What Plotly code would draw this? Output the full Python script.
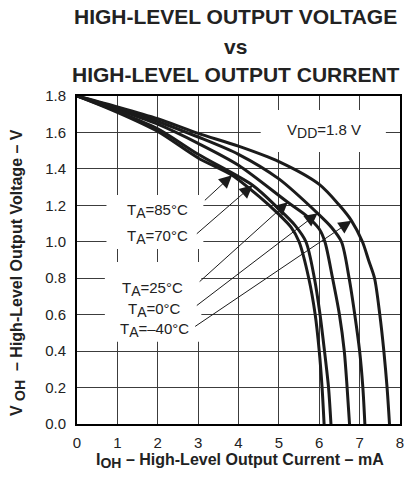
import plotly.graph_objects as go

# High-level output voltage vs output current, one curve per ambient temperature
current_85 = [0, 1, 2, 3, 3.84, 4.5, 5.0, 5.3, 5.5, 5.74, 5.90, 6.0, 6.07, 6.12]
voltage_85 = [1.8, 1.71, 1.605, 1.46, 1.365, 1.25, 1.15, 1.08, 1.0, 0.8, 0.6, 0.4, 0.2, 0.0]

current_70 = [0, 1, 2, 3, 4.35, 5.0, 5.4, 5.67, 5.88, 6.02, 6.13, 6.23, 6.29]
voltage_70 = [1.8, 1.715, 1.62, 1.48, 1.31, 1.18, 1.09, 1.0, 0.8, 0.6, 0.4, 0.2, 0.0]

current_25 = [0, 1, 2, 3, 4, 5.22, 5.7, 6.0, 6.14, 6.33, 6.5, 6.62, 6.69, 6.75]
voltage_25 = [1.8, 1.725, 1.645, 1.54, 1.42, 1.217, 1.14, 1.07, 1.0, 0.8, 0.6, 0.4, 0.2, 0.0]

current_0 = [0, 1, 2, 3, 4, 5, 5.96, 6.3, 6.55, 6.74, 6.88, 7.0, 7.08, 7.13]
voltage_0 = [1.8, 1.735, 1.66, 1.575, 1.48, 1.345, 1.156, 1.08, 1.0, 0.8, 0.6, 0.4, 0.2, 0.0]

current_m40 = [0, 1, 2, 3, 4, 5, 6, 6.5, 6.8, 7.07, 7.22, 7.37, 7.5, 7.6, 7.68, 7.74]
voltage_m40 = [1.8, 1.74, 1.675, 1.595, 1.525, 1.44, 1.315, 1.2, 1.115, 1.0, 0.9, 0.8, 0.6, 0.4, 0.2, 0.0]


def sub(text, size):
    """Subscript drawn close to full size, as in the datasheet typography."""
    return f"<sub><span style='font-size:{size}px'>{text}</span></sub>"


temp_labels = [f"T{sub('A', 14)}=85°C", f"T{sub('A', 14)}=70°C", f"T{sub('A', 14)}=25°C",
               f"T{sub('A', 14)}=0°C", f"T{sub('A', 14)}=–40°C"]
supply_label = f"V{sub('DD', 14)}=1.8 V"

x_ticks = [0, 1, 2, 3, 4, 5, 6, 7, 8]
y_ticks = [0.0, 0.2, 0.4, 0.6, 0.8, 1.0, 1.2, 1.4, 1.6, 1.8]

FONT = "Liberation Sans, Arial, Helvetica, sans-serif"
INK = "#1b1b1b"
TEXT = "#222"

curves = [
    (current_85, voltage_85),
    (current_70, voltage_70),
    (current_25, voltage_25),
    (current_0, voltage_0),
    (current_m40, voltage_m40),
]

fig = go.Figure()
for cur, volt in curves:
    fig.add_trace(go.Scatter(
        x=cur, y=volt, mode="lines",
        line=dict(color=INK, width=3, shape="spline", smoothing=0.8),
        hoverinfo="skip", showlegend=False,
    ))

# White panels behind the labels, interrupting the grid
label_panels = [
    (0.73, 3.13, 0.96, 1.257),
    (0.69, 3.08, 0.452, 0.889),
    (4.55, 7.65, 1.493, 1.723),
]
for x0, x1, y0, y1 in label_panels:
    fig.add_shape(type="rect", xref="x", yref="y", x0=x0, x1=x1, y0=y0, y1=y1,
                  fillcolor="white", line=dict(width=0), layer="above")

# Temperature labels and their leader arrows
label_pos = [(2.0, 1.169), (2.0, 1.026), (1.88, 0.741), (1.92, 0.626), (1.91, 0.516)]
arrow_tail = [(3.13, 1.22), (2.93, 1.037), (3.0, 0.774), (2.93, 0.644), (2.89, 0.53)]
arrow_tip = [(3.84, 1.365), (4.35, 1.31), (5.22, 1.217), (5.96, 1.156), (6.8, 1.115)]

for text, (lx, ly) in zip(temp_labels, label_pos):
    fig.add_annotation(x=lx, y=ly, xref="x", yref="y", text=text, showarrow=False,
                       font=dict(family=FONT, size=15, color=TEXT),
                       xanchor="center", yanchor="middle")

for (tx, ty), (hx, hy) in zip(arrow_tail, arrow_tip):
    fig.add_annotation(x=hx, y=hy, ax=tx, ay=ty, xref="x", yref="y",
                       axref="x", ayref="y", text="", showarrow=True,
                       arrowhead=2, arrowsize=2.6, arrowwidth=1, arrowcolor=INK,
                       standoff=0)

fig.add_annotation(x=6.11, y=1.608, xref="x", yref="y", text=supply_label,
                   showarrow=False, font=dict(family=FONT, size=15, color=TEXT),
                   xanchor="center", yanchor="middle")

# Three-line title
title_lines = ["HIGH-LEVEL OUTPUT VOLTAGE", "vs", "HIGH-LEVEL OUTPUT CURRENT"]
title_y = [1.2418, 1.1524, 1.0665]
for text, ty in zip(title_lines, title_y):
    fig.add_annotation(x=0.492, y=ty, xref="paper", yref="paper", text=f"<b>{text}</b>",
                       showarrow=False, font=dict(family=FONT, size=21, color=TEXT),
                       xanchor="center", yanchor="middle")

# Axis titles
fig.add_annotation(x=0.505, y=-0.112, xref="paper", yref="paper",
                   text=f"<b>I{sub('OH', 14)} – High-Level Output Current – mA</b>",
                   showarrow=False, font=dict(family=FONT, size=16, color=TEXT),
                   xanchor="center", yanchor="middle")
fig.add_annotation(x=-0.183, y=0.463, xref="paper", yref="paper",
                   text=f"<b>V\u00a0{sub('OH', 14)}\u00a0\u00a0– High-Level Output Voltage – V</b>",
                   showarrow=False, textangle=-90,
                   font=dict(family=FONT, size=16, color=TEXT),
                   xanchor="center", yanchor="middle")

axis_common = dict(
    showgrid=True, gridcolor="#3c3c3c", gridwidth=1,
    showline=True, linecolor="black", linewidth=2, mirror=True,
    zeroline=False, ticks="",
    tickfont=dict(family=FONT, size=15, color=TEXT),
)

fig.update_layout(
    width=409, height=478,
    margin=dict(l=77, r=5, t=96, b=54),
    paper_bgcolor="white", plot_bgcolor="white",
    xaxis=dict(range=[0, 8], tickvals=x_ticks, ticklabelstandoff=4, **axis_common),
    yaxis=dict(range=[0, 1.8], tickvals=y_ticks, tickformat=".1f",
               ticklabelstandoff=6, **axis_common),
)

fig.write_html("out.html")
